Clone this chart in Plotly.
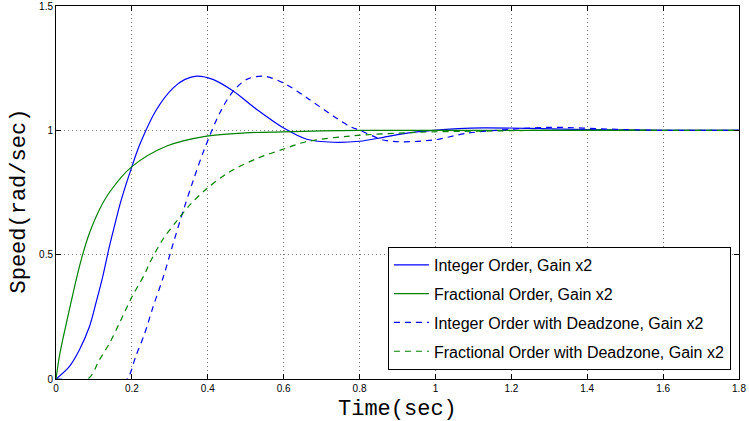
import plotly.graph_objects as go

# ---- data ----
int_t = [0, 0.035, 0.0615, 0.088, 0.105, 0.123, 0.1406, 0.158, 0.171, 0.2, 0.221, 0.265,
         0.309, 0.34, 0.371, 0.415, 0.467, 0.529, 0.599, 0.661, 0.731, 0.8, 0.863, 0.93, 0.994,
         1.06, 1.126, 1.25, 1.4, 1.6, 1.8]
int_y = [0, 0.05, 0.117, 0.21, 0.304, 0.411, 0.532, 0.639, 0.715, 0.854, 0.944, 1.084,
         1.171, 1.205, 1.218, 1.204, 1.158, 1.084, 1.010, 0.964, 0.952, 0.956, 0.972, 0.99, 1.0,
         1.007, 1.010, 1.008, 1.003, 1.0, 1.0]

frac_t = [0, 0.0088, 0.0176, 0.035, 0.053, 0.070, 0.088, 0.114, 0.142, 0.2, 0.292, 0.397,
          0.5, 0.599, 0.7, 0.8, 1.0, 1.8]
frac_y = [0, 0.09, 0.157, 0.277, 0.398, 0.499, 0.586, 0.68, 0.753, 0.854, 0.937, 0.977,
          0.99, 0.994, 0.998, 1.0, 1.0, 1.0]

intdz_t = [0, 0.188, 0.195, 0.21, 0.233, 0.256, 0.283, 0.309, 0.336, 0.362, 0.39, 0.432,
           0.467, 0.503, 0.546, 0.599, 0.661, 0.731, 0.775, 0.801, 0.863, 0.907, 0.994,
           1.082, 1.17, 1.302, 1.478, 1.6, 1.8]
intdz_y = [0, 0, 0.02, 0.09, 0.18, 0.291, 0.411, 0.546, 0.68, 0.80, 0.92, 1.071,
           1.158, 1.205, 1.218, 1.191, 1.131, 1.057, 1.015, 1.0, 0.961, 0.954, 0.961,
           0.988, 1.001, 1.012, 1.004, 1.0, 1.0]

fracdz_t = [0, 0.0835, 0.114, 0.1406, 0.167, 0.2, 0.233, 0.248, 0.283, 0.318, 0.353, 0.397,
            0.454, 0.527, 0.6, 0.659, 0.775, 0.951, 1.126, 1.3, 1.8]
fracdz_y = [0, 0, 0.076, 0.143, 0.224, 0.33, 0.42, 0.47, 0.565, 0.635, 0.70, 0.765,
            0.83, 0.885, 0.925, 0.954, 0.977, 0.992, 0.997, 1.0, 1.0]

names = ["Integer Order, Gain x2", "Fractional Order, Gain x2",
         "Integer Order with Deadzone, Gain x2", "Fractional Order with Deadzone, Gain x2"]

x_ticks = [0, 0.2, 0.4, 0.6, 0.8, 1, 1.2, 1.4, 1.6, 1.8]
x_tick_text = ["0", "0.2", "0.4", "0.6", "0.8", "1", "1.2", "1.4", "1.6", "1.8"]
y_ticks = [0, 0.5, 1, 1.5]
y_tick_text = ["0", "0.5", "1", "1.5"]

x_title = "Time(sec)"
y_title = "Speed(rad/sec)"

BLUE = "rgb(0,0,255)"
GREEN = "rgb(0,128,0)"

fig = go.Figure()
series = [
    (int_t, int_y, BLUE, "solid"),
    (frac_t, frac_y, GREEN, "solid"),
    (intdz_t, intdz_y, BLUE, "6px,5px"),
    (fracdz_t, fracdz_y, GREEN, "6px,5px"),
]
for i, (t, y, c, d) in enumerate(series):
    fig.add_trace(go.Scatter(
        x=t, y=y, mode="lines", name=names[i], legendgroup=f"g{i}",
        line=dict(color=c, width=1.2, dash=d, shape="spline", smoothing=0.9),
    ))

axis_common = dict(
    showline=True, linecolor="black", linewidth=1, mirror="ticks",
    ticks="inside", ticklen=5, tickcolor="black", automargin=False,
    showgrid=True, gridcolor="#7a7a7a", griddash="1px,3px", gridwidth=1,
    zeroline=False, tickfont=dict(family="Liberation Sans, Arial", size=10, color="black"),
)

fig.update_xaxes(range=[0, 1.8], tickvals=x_ticks, ticktext=x_tick_text, **axis_common)
fig.update_yaxes(range=[0, 1.5], tickvals=y_ticks, ticktext=y_tick_text, **axis_common)

title_font = dict(family="Liberation Mono, Courier New", size=22, color="black")
fig.add_annotation(text=x_title, xref="paper", yref="paper", x=0.5, y=0,
                   xanchor="center", yanchor="top", yshift=-16, showarrow=False, font=title_font)
fig.add_annotation(text=y_title, xref="paper", yref="paper", x=0, y=0.5, textangle=-90,
                   xanchor="center", yanchor="middle", xshift=-37, yshift=-9,
                   showarrow=False, font=title_font)

fig.update_layout(
    width=749, height=421,
    margin=dict(l=56, r=10, t=6, b=42),
    paper_bgcolor="white", plot_bgcolor="white",
    hovermode=False,
    legend=dict(x=0.486, y=0.354, xanchor="left", yanchor="top",
                bordercolor="black", borderwidth=1, bgcolor="white",
                font=dict(family="Liberation Sans, Arial", size=16, color="black"),
                tracegroupgap=5, itemwidth=35),
)

fig.write_html("out.html", config={"displayModeBar": False},
               post_script="document.body.style.margin='0';")
